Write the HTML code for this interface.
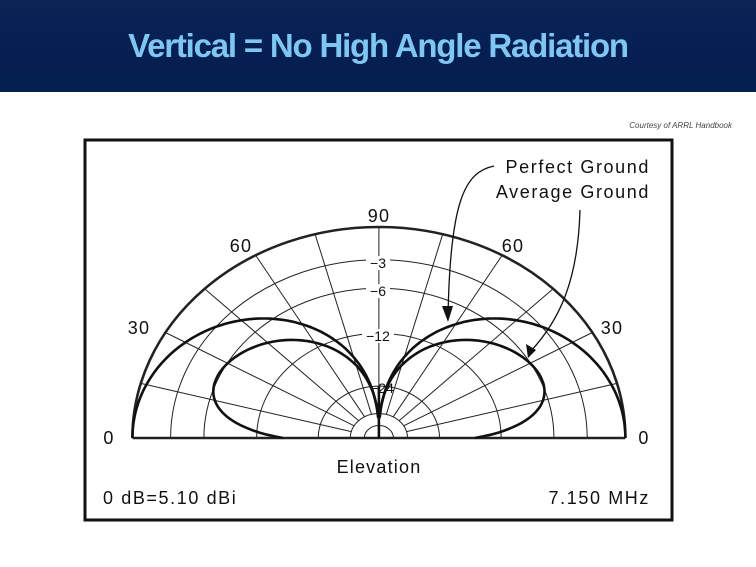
<!DOCTYPE html>
<html><head><meta charset="utf-8"><style>
html,body{margin:0;padding:0;background:#fff;}
body{width:756px;height:567px;position:relative;overflow:hidden;font-family:"Liberation Sans",sans-serif;}
#hdr{position:absolute;left:0;top:0;width:756px;height:92px;background:linear-gradient(#0b2456,#061f52 60%,#03204e);}
#ttl{position:absolute;left:0;top:27px;width:756px;text-align:center;color:#7fc6f2;font-size:33px;font-weight:bold;letter-spacing:-1.2px;}
#cr{position:absolute;right:24px;top:121px;font-size:8px;font-style:italic;color:#444;}
svg{position:absolute;left:0;top:0;}
</style></head><body>
<div id="hdr"></div>
<div id="ttl">Vertical = No High Angle Radiation</div>
<div id="cr">Courtesy of ARRL Handbook</div>
<svg id="s" width="756" height="567" xmlns="http://www.w3.org/2000/svg" font-family="Liberation Sans, sans-serif">
<rect x="85" y="140" width="587" height="380" fill="none" stroke="#111" stroke-width="3"/>
<g id="grid" fill="none" stroke="#222" stroke-width="1"></g>
<g id="pat" fill="none" stroke="#111" stroke-width="2.6"></g>
<g font-size="18" fill="#111" text-anchor="middle" letter-spacing="1.2">
<text x="379" y="222">90</text>
<text x="241" y="252">60</text><text x="513" y="252">60</text>
<text x="139" y="334">30</text><text x="612" y="334">30</text>
<text x="109" y="444">0</text><text x="644" y="444">0</text>
<text x="379" y="473">Elevation</text>
</g>
<g font-size="14" fill="#111" text-anchor="middle">
<rect x="366" y="256" width="24" height="14" fill="#fff"/><text x="378" y="268">−3</text>
<rect x="366" y="284" width="24" height="14" fill="#fff"/><text x="378" y="296">−6</text>
<rect x="362" y="329" width="32" height="14" fill="#fff"/><text x="378" y="341">−12</text>
<text x="382" y="393">−24</text>
</g>
<g font-size="18" fill="#111" letter-spacing="1.6">
<text x="103" y="504">0 dB=5.10 dBi</text>
<text x="650" y="504" text-anchor="end">7.150 MHz</text>
<text x="650" y="173" text-anchor="end">Perfect Ground</text>
<text x="650" y="198" text-anchor="end">Average Ground</text>
</g>
<g fill="none" stroke="#111" stroke-width="1.3">
<path d="M494,166 C465,172 450,200 448,318"/>
<path d="M580,210 C578,280 560,320 530,352"/>
</g>
<g fill="#111">
<path d="M442,306 L448,322 L453,306 Z"/>
<path d="M526,344 L528,358 L536,350 Z"/>
</g>
</svg>
<script>
var cx=378.9,cy=438,rx=246.5,ry=211,NS="http://www.w3.org/2000/svg";
function P(r,t){return [cx+r*rx*Math.cos(t),cy-r*ry*Math.sin(t)];}
function add(g,tag,at){var e=document.createElementNS(NS,tag);for(var k in at)e.setAttribute(k,at[k]);document.getElementById(g).appendChild(e);return e;}
var rings=[0.845,0.71,0.496,0.246,0.116,0.059];
rings.forEach(function(r){add("grid","path",{d:"M"+(cx-r*rx)+","+cy+" A"+(r*rx)+","+(r*ry)+" 0 0 1 "+(cx+r*rx)+","+cy});});
add("grid","path",{d:"M"+(cx-rx)+","+cy+" A"+rx+","+ry+" 0 0 1 "+(cx+rx)+","+cy,"stroke-width":"2.6"});
add("grid","line",{x1:cx-rx,y1:cy,x2:cx+rx,y2:cy,"stroke-width":"2.6"});
for(var a=15;a<180;a+=15){var t=a*Math.PI/180,p1=P(0.116,t),p2=P(1,t);add("grid","line",{x1:p1[0],y1:p1[1],x2:p2[0],y2:p2[1]});}
function rOf(dB){if(dB<-40)dB=-40;return Math.pow(0.89,-dB/2);}
function perf(t){var c=Math.cos(t);return c<=1e-6?-60:27*Math.log10(c);}
function avg(t){var deg=t*180/Math.PI;var c=Math.cos(t);var p=c<=1e-6?-60:23*Math.log10(c);return p-4.2-12*Math.exp(-deg/8);}
function half(f){var d1="",d2="";for(var i=0;i<=90;i++){var t=i/180*Math.PI;var r=rOf(f(t));var p=P(r,t);d1+=(i?"L":"M")+p[0].toFixed(1)+","+p[1].toFixed(1);var q=P(r,Math.PI-t);d2+=(i?"L":"M")+q[0].toFixed(1)+","+q[1].toFixed(1);}add("pat","path",{d:d1});add("pat","path",{d:d2});}
half(perf);half(avg);
add("pat","line",{x1:cx,y1:cy,x2:cx,y2:cy-0.246*ry});
</script>
</body></html>
